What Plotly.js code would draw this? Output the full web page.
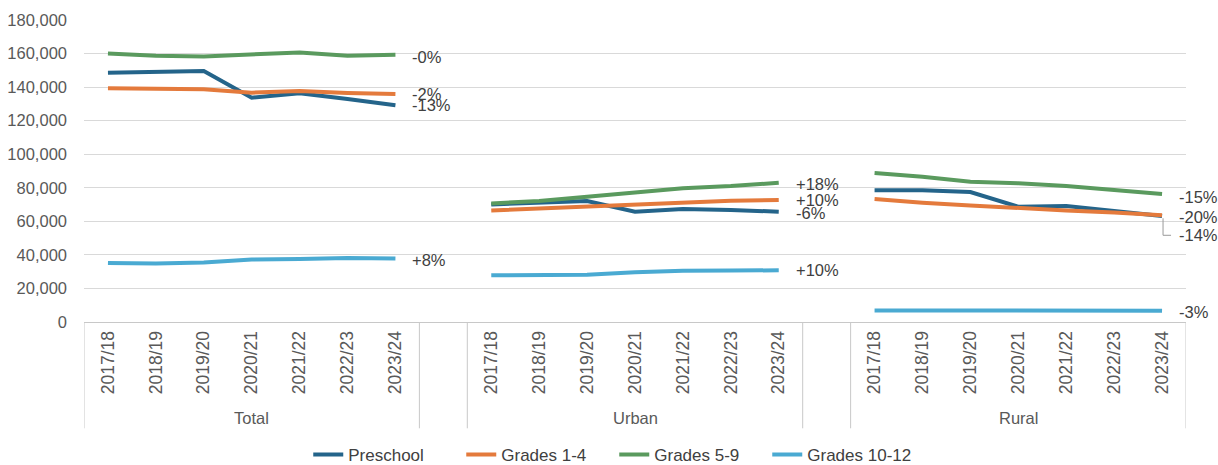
<!DOCTYPE html>
<html>
<head>
<meta charset="utf-8">
<script src="https://cdn.plot.ly/plotly-3.0.1.min.js"></script>
<style>
  html, body { margin: 0; padding: 0; background: #fff; }
  #chart { width: 1218px; height: 465px; }
</style>
</head>
<body>
<div id="chart"></div>
<script>
// category labels
const years = ['2017/18', '2018/19', '2019/20', '2020/21', '2021/22', '2022/23', '2023/24'];
const groups = ['Total', 'Urban', 'Rural'];

// values per group (Total, Urban, Rural)
const preschoolTotal = [148600, 149200, 149600, 133700, 136300, 132900, 129200];
const preschoolUrban = [70100, 71100, 72100, 65700, 67300, 66800, 65700];
const preschoolRural = [78500, 78500, 77500, 68700, 69100, 66200, 63200];

const grades14Total = [139300, 138900, 138700, 136700, 137700, 136500, 135900];
const grades14Urban = [66500, 67700, 68700, 69700, 71300, 72300, 72700];
const grades14Rural = [73300, 71100, 69500, 67700, 66500, 65200, 63600];

const grades59Total = [160100, 158700, 158300, 159500, 160700, 158700, 159300];
const grades59Urban = [70700, 72100, 74700, 77300, 79700, 81000, 83000];
const grades59Rural = [88800, 86600, 83600, 82700, 81000, 78700, 76300];

const grades1012Total = [35200, 34800, 35400, 37200, 37600, 38200, 37800];
const grades1012Urban = [27800, 27800, 28200, 29600, 30600, 30700, 30800];
const grades1012Rural = [6900, 6900, 6800, 6800, 6800, 6700, 6700];

// change labels at the end of each group
const preschoolChange = ['-13%', '-6%', '-20%'];
const grades14Change = ['-2%', '+10%', '-14%'];
const grades59Change = ['-0%', '+18%', '-15%'];
const grades1012Change = ['+8%', '+10%', '-3%'];

const series = [
  {name: 'Preschool', color: '#24648a', parts: [preschoolTotal, preschoolUrban, preschoolRural], labels: preschoolChange, shift: [0, -1, -1]},
  {name: 'Grades 1-4', color: '#e47a3c', parts: [grades14Total, grades14Urban, grades14Rural], labels: grades14Change, shift: [0, 0, -20]},
  {name: 'Grades 5-9', color: '#5a9a5e', parts: [grades59Total, grades59Urban, grades59Rural], labels: grades59Change, shift: [-2, -1, -3]},
  {name: 'Grades 10-12', color: '#4aaad2', parts: [grades1012Total, grades1012Urban, grades1012Rural], labels: grades1012Change, shift: [-1, 0, -1]}
];

const step = years.length + 1; // one empty slot between groups
const xIdx = (g, i) => g * step + i;

const tickVals = [], tickText = [];
groups.forEach((g, gi) => years.forEach((y, i) => { tickVals.push(xIdx(gi, i)); tickText.push(y); }));

const data = series.map(s => {
  const x = [], y = [];
  s.parts.forEach((vals, gi) => {
    vals.forEach((v, i) => { x.push(xIdx(gi, i)); y.push(v); });
    if (gi < groups.length - 1) { x.push(xIdx(gi, years.length)); y.push(null); }
  });
  return {
    type: 'scatter', mode: 'lines', name: s.name, x: x, y: y,
    connectgaps: false,
    line: {color: s.color, width: 4}
  };
});

const txtColor = '#404040';
const font = 'Liberation Sans, Arial, sans-serif';
const boxBottom = -0.352;

const annotations = [];
series.forEach(s => {
  s.parts.forEach((vals, gi) => {
    annotations.push({
      x: xIdx(gi, years.length - 1), y: vals[vals.length - 1],
      xref: 'x', yref: 'y', text: s.labels[gi], showarrow: false,
      xanchor: 'left', yanchor: 'middle', xshift: 15, yshift: s.shift[gi],
      font: {family: font, size: 16.5, color: txtColor}
    });
  });
});
groups.forEach((g, gi) => {
  annotations.push({
    x: xIdx(gi, (years.length - 1) / 2), y: -0.318, xref: 'x', yref: 'paper',
    text: g, showarrow: false, xanchor: 'center', yanchor: 'middle',
    font: {family: font, size: 16.5, color: '#595959'}
  });
});

// category box lines
const shapes = [];
groups.forEach((g, gi) => {
  [xIdx(gi, -0.5), xIdx(gi, years.length - 0.5)].forEach(xv => {
    shapes.push({type: 'line', xref: 'x', yref: 'paper', x0: xv, x1: xv, y0: 0, y1: boxBottom,
      line: {color: '#c8c8c8', width: 1}});
  });
});
// leader line for the Rural Grades 1-4 label
shapes.push({
  type: 'path', xref: 'x', yref: 'y', xsizemode: 'pixel', ysizemode: 'pixel',
  xanchor: xIdx(2, years.length - 1), yanchor: grades14Rural[grades14Rural.length - 1],
  path: 'M1,-3 V-20 H9', line: {color: '#9a9a9a', width: 1}
});

const layout = {
  width: 1218, height: 465,
  margin: {l: 84, r: 32, t: 20, b: 143, autoexpand: false},
  paper_bgcolor: '#fff', plot_bgcolor: '#fff',
  font: {family: font, color: '#595959'},
  showlegend: true,
  legend: {
    orientation: 'h', x: 0.2035, xanchor: 'left', y: -0.44, yanchor: 'middle',
    font: {family: font, size: 17, color: txtColor}, itemwidth: 30, tracegroupgap: 0,
    entrywidth: 108, entrywidthmode: 'pixels'
  },
  xaxis: {
    range: [-0.5, xIdx(2, years.length - 0.5)],
    tickmode: 'array', tickvals: tickVals, ticktext: tickText,
    tickangle: -90, tickfont: {family: font, size: 17.5, color: '#595959'},
    showgrid: false, zeroline: false, showline: true, linecolor: '#c8c8c8', linewidth: 1,
    ticks: '', ticklabelstandoff: 1, automargin: false, fixedrange: true
  },
  yaxis: {
    range: [0, 180000], dtick: 20000, tickformat: ',d',
    tickfont: {family: font, size: 16.5, color: '#595959'},
    gridcolor: '#d9d9d9', gridwidth: 1, zeroline: false, showline: false,
    ticks: '', ticklabelstandoff: 16, automargin: false, fixedrange: true
  },
  annotations: annotations,
  shapes: shapes
};

Plotly.newPlot('chart', data, layout, {displayModeBar: false, staticPlot: true});
</script>
</body>
</html>
